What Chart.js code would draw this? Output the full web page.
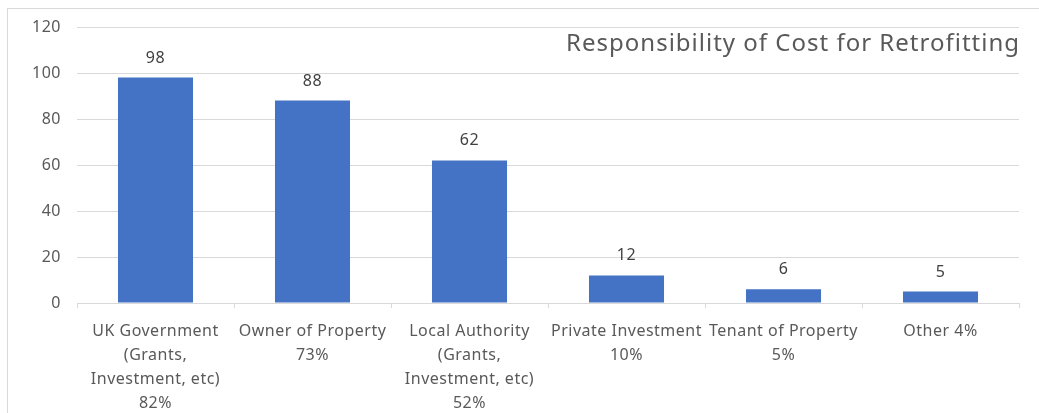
<!DOCTYPE html>
<html>
<head>
<meta charset="utf-8">
<title>Responsibility of Cost for Retrofitting</title>
<script src="https://cdn.jsdelivr.net/npm/chart.js@4/dist/chart.umd.min.js"></script>
<style>
  html, body { margin: 0; padding: 0; background: #fff; overflow: hidden; }
  #frame {
    position: absolute; left: 7px; top: 8px; width: 1100px; height: 500px;
    border-top: 1px solid #d9d9d9; border-left: 1px solid #d9d9d9;
  }
  #wrap { position: absolute; left: 0; top: 0; width: 1039px; height: 413px; }
</style>
</head>
<body>
<div id="frame"></div>
<div id="wrap"><canvas id="costChart" width="1039" height="413"></canvas></div>
<script>
// Quem deve pagar pelo retrofit
const categories = [
  ['UK Government', '(Grants,', 'Investment, etc)', '82%'],
  ['Owner of Property', '73%'],
  ['Local Authority', '(Grants,', 'Investment, etc)', '52%'],
  ['Private Investment', '10%'],
  ['Tenant of Property', '5%'],
  ['Other 4%']
];
const responses = [98, 88, 62, 12, 6, 5];
const yTicks = [0, 20, 40, 60, 80, 100, 120];

const FONT = '"Noto Sans", "Open Sans", sans-serif';
const TEXT = '#595959';

// Espaçamento entre letras um pouco mais largo em todo o canvas
const letterSpacing = {
  id: 'letterSpacing',
  beforeDraw(chart) { chart.ctx.letterSpacing = '0.5px'; }
};

// Valores acima das barras
const valueLabels = {
  id: 'valueLabels',
  afterDatasetsDraw(chart) {
    const { ctx } = chart;
    const meta = chart.getDatasetMeta(0);
    ctx.save();
    ctx.font = '16px ' + FONT;
    ctx.fillStyle = '#404040';
    ctx.textAlign = 'center';
    ctx.textBaseline = 'alphabetic';
    meta.data.forEach((bar, i) => {
      ctx.fillText(String(responses[i]), bar.x, bar.y - 15);
    });
    ctx.restore();
  }
};

// Título dentro da área do gráfico, canto superior direito
const chartTitle = {
  id: 'chartTitle',
  afterDraw(chart) {
    const { ctx, chartArea } = chart;
    ctx.save();
    ctx.font = '24px ' + FONT;
    ctx.letterSpacing = '1px';
    ctx.fillStyle = TEXT;
    ctx.textAlign = 'right';
    ctx.textBaseline = 'alphabetic';
    ctx.fillText('Responsibility of Cost for Retrofitting', chartArea.right + 1, 51);
    ctx.restore();
  }
};

const ctx = document.getElementById('costChart').getContext('2d');
new Chart(ctx, {
  type: 'bar',
  data: {
    labels: categories,
    datasets: [{
      data: responses,
      backgroundColor: '#4472c4',
      borderWidth: 0,
      barPercentage: 0.478,
      categoryPercentage: 1
    }]
  },
  options: {
    responsive: false,
    animation: false,
    layout: { padding: { top: 27, right: 20, left: 0, bottom: 0 } },
    plugins: {
      legend: { display: false },
      tooltip: { enabled: false }
    },
    scales: {
      x: {
        grid: {
          offset: true,
          drawOnChartArea: false,
          drawTicks: true,
          tickLength: 5,
          color: '#d9d9d9'
        },
        border: { color: '#d9d9d9', width: 1 },
        ticks: {
          color: TEXT,
          font: { family: FONT, size: 16, lineHeight: 1.5 },
          padding: 11,
          maxRotation: 0,
          autoSkip: false
        },
        afterFit(scale) { scale.height = 110; }
      },
      y: {
        min: 0,
        max: 120,
        afterBuildTicks(scale) { scale.ticks = yTicks.map(v => ({ value: v })); },
        grid: { color: '#d9d9d9', drawTicks: false },
        border: { display: false },
        ticks: {
          color: TEXT,
          font: { family: FONT, size: 16 },
          padding: 16
        },
        afterFit(scale) { scale.width = 77; }
      }
    }
  },
  plugins: [letterSpacing, valueLabels, chartTitle]
});
</script>
</body>
</html>
